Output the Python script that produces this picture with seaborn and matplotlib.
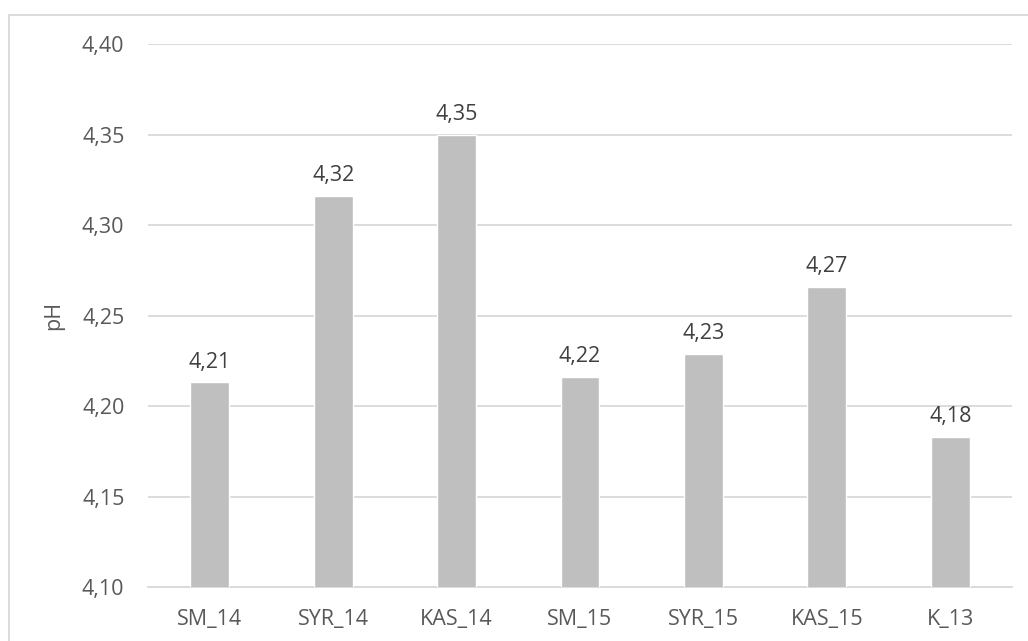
import matplotlib
matplotlib.use("Agg")
import matplotlib.pyplot as plt
from matplotlib.patches import Rectangle
import pandas as pd
import seaborn as sns

# dados
amostras = ["SM_14", "SYR_14", "KAS_14", "SM_15", "SYR_15", "KAS_15", "K_13"]
ph = [4.213, 4.316, 4.350, 4.216, 4.229, 4.266, 4.183]
yticks = [4.10, 4.15, 4.20, 4.25, 4.30, 4.35, 4.40]

COR_TEXTO = "#595959"
COR_GRADE = "#d9d9d9"
FS = 15.5

sns.set_theme(style="white")
plt.rcParams["font.family"] = ["Open Sans", "DejaVu Sans"]

df = pd.DataFrame({"amostra": amostras, "pH": ph})


def virgula(v):
    return f"{v:.2f}".replace(".", ",")


fig = plt.figure(figsize=(10.28, 6.41), dpi=100)
ax = fig.add_axes([148 / 1028, 1 - 587 / 641, 864 / 1028, 543 / 641])

sns.barplot(data=df, x="amostra", y="pH", color="#bfbfbf", saturation=1,
            width=0.315, ax=ax, zorder=3)

ax.set_ylim(yticks[0], yticks[-1])
ax.set_yticks(yticks)
ax.set_yticklabels([virgula(v) for v in yticks])
ax.grid(axis="y", color=COR_GRADE, lw=1.3, zorder=0)
ax.set_axisbelow(True)
for lado in ["top", "right", "left"]:
    ax.spines[lado].set_visible(False)
ax.spines["bottom"].set_color(COR_GRADE)
ax.spines["bottom"].set_linewidth(1.3)

ax.tick_params(axis="both", length=0, labelsize=FS, labelcolor=COR_TEXTO)
ax.tick_params(axis="y", pad=17)
ax.tick_params(axis="x", pad=16)
ax.set_xlabel("")
ax.set_ylabel("pH", fontsize=FS, color=COR_TEXTO, labelpad=13)

ax.bar_label(ax.containers[0], labels=[virgula(v) for v in ph],
             padding=7, fontsize=FS, color="#404040")

# moldura do gráfico (estilo Excel, cortada à direita e embaixo)
fig.patches.append(Rectangle((9 / 1028, -0.1), 1.2, 1 - 15 / 641 + 0.1,
                             transform=fig.transFigure, fill=False,
                             edgecolor=COR_GRADE, lw=1.3))

fig.savefig("out.png", dpi=100)
